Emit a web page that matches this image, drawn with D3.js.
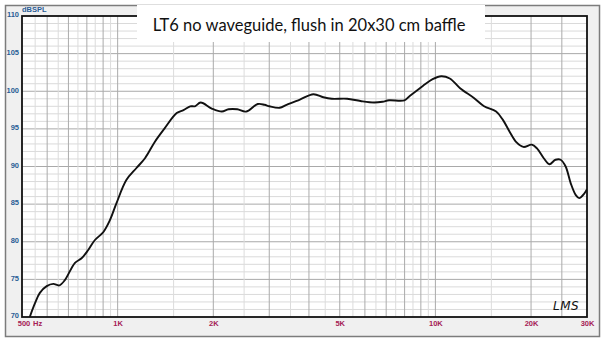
<!DOCTYPE html>
<html>
  <head>
    <script src="https://d3js.org/d3.v7.min.js"></script>
    <style>
      body { margin: 0; background: #fff; }
    </style>
  </head>
  <body>
<script type="text/javascript">
// frequency response
var freqs = [529, 549, 569, 598, 627, 655, 682, 734, 770, 808, 847, 902, 944, 991,
  1065, 1146, 1219, 1310, 1407, 1534, 1611, 1692, 1750, 1825, 1978, 2128, 2233, 2380,
  2535, 2760, 2900, 3005, 3237, 3401, 3746, 4131, 4440, 4720, 5273, 5810, 6410, 6815,
  7150, 7990, 8270, 9130, 9800, 10430, 11100, 11960, 13220, 14230, 15530, 16310,
  17140, 18010, 18930, 20110, 20880, 21930, 22840, 23880, 24780, 25700, 26650,
  27660, 28350, 29410, 30000];
var spl = [70, 71.8, 73.2, 74.1, 74.4, 74.2, 74.9, 77.2, 77.8, 78.9, 80.2, 81.3, 82.8, 85.1,
  88.2, 89.8, 91.1, 93.3, 95.1, 97.1, 97.5, 98.0, 98.0, 98.5, 97.7, 97.3, 97.6, 97.6,
  97.3, 98.3, 98.2, 98.0, 97.8, 98.2, 98.9, 99.6, 99.2, 99.0, 99.0, 98.7, 98.5, 98.6,
  98.8, 98.8, 99.3, 100.7, 101.6, 102.0, 101.7, 100.4, 99.1, 98.0, 97.3, 96.2,
  94.6, 93.2, 92.6, 92.9, 92.4, 91.1, 90.3, 90.9, 90.9, 90.0, 87.8,
  86.2, 85.8, 86.4, 87.0];

var yTicks = [70, 75, 80, 85, 90, 95, 100, 105, 110];
var xTickVals = [500, 1000, 2000, 5000, 10000, 20000, 30000];
var xTickLabels = ['500', '1K', '2K', '5K', '10K', '20K', '30K'];
var title = 'LT6 no waveguide, flush in 20x30 cm baffle';

var W = 610, H = 341;
var plot = {left: 22, right: 587, top: 16, bottom: 317};

var svg = d3.select('body').append('svg')
    .attr('width', W)
    .attr('height', H);

var x = d3.scaleLog().domain([500, 30000]).range([plot.left, plot.right]);
var y = d3.scaleLinear().domain([70, 110]).range([plot.bottom, plot.top]);

// outer frame
svg.append('rect')
    .attr('x', 5.5).attr('y', 5.5)
    .attr('width', 594).attr('height', 331)
    .attr('fill', '#f0f0f0')
    .attr('stroke', '#7c7c7c')
    .attr('stroke-width', 1.5);

svg.append('rect')
    .attr('x', plot.left).attr('y', plot.top)
    .attr('width', plot.right - plot.left).attr('height', plot.bottom - plot.top)
    .attr('fill', '#fff');

// grid lines
var vLines = [];
d3.range(550, 1001, 50).forEach(function(f) { vLines.push({f: f, major: f % 100 === 0}); });
d3.range(1500, 10001, 500).forEach(function(f) { vLines.push({f: f, major: f % 1000 === 0}); });
d3.range(15000, 25001, 5000).forEach(function(f) { vLines.push({f: f, major: f % 10000 === 0 || f === 25000}); });

var hLines = d3.range(71, 110, 1);

var grid = svg.append('g');
grid.selectAll('line.h')
    .data(hLines)
    .enter()
    .append('line')
    .attr('x1', plot.left).attr('x2', plot.right)
    .attr('y1', function(d) { return y(d); })
    .attr('y2', function(d) { return y(d); })
    .attr('stroke', function(d) { return d % 5 === 0 ? '#a9a9a9' : '#dadada'; })
    .attr('stroke-width', 1);

grid.selectAll('line.v')
    .data(vLines)
    .enter()
    .append('line')
    .attr('y1', plot.top).attr('y2', plot.bottom)
    .attr('x1', function(d) { return x(d.f); })
    .attr('x2', function(d) { return x(d.f); })
    .attr('stroke', function(d) { return d.major ? '#ababab' : '#dcdcdc'; })
    .attr('stroke-width', 1);

svg.append('clipPath').attr('id', 'clip')
  .append('rect')
    .attr('x', plot.left).attr('y', plot.top)
    .attr('width', plot.right - plot.left).attr('height', plot.bottom - plot.top);

var line = d3.line()
    .x(function(d, i) { return x(freqs[i]); })
    .y(function(d) { return y(d); })
    .curve(d3.curveCatmullRom);

svg.append('path')
    .datum(spl)
    .attr('clip-path', 'url(#clip)')
    .attr('d', line)
    .attr('fill', 'none')
    .attr('stroke', '#111')
    .attr('stroke-width', 1.9)
    .attr('stroke-linejoin', 'round');

// plot border
svg.append('rect')
    .attr('x', plot.left).attr('y', plot.top)
    .attr('width', plot.right - plot.left).attr('height', plot.bottom - plot.top)
    .attr('fill', 'none')
    .attr('stroke', '#111')
    .attr('stroke-width', 1.8);

// axes (labels only)
var yAxis = d3.axisLeft(y).tickValues(yTicks).tickSize(0).tickPadding(3);
var gy = svg.append('g')
    .attr('transform', 'translate(' + plot.left + ',0)')
    .call(yAxis);
gy.select('.domain').remove();
gy.selectAll('text')
    .attr('fill', '#2a5d95')
    .attr('font-family', 'Liberation Sans, Arial, sans-serif')
    .attr('font-size', '7.5px')
    .attr('font-weight', 'bold')
    .attr('dy', '0.1em');

var xAxis = d3.axisBottom(x).tickValues(xTickVals)
    .tickFormat(function(d, i) { return xTickLabels[i]; })
    .tickSize(0).tickPadding(4);
var gx = svg.append('g')
    .attr('transform', 'translate(0,' + plot.bottom + ')')
    .call(xAxis);
gx.select('.domain').remove();
gx.selectAll('text')
    .attr('fill', '#a52055')
    .attr('font-family', 'Liberation Sans, Arial, sans-serif')
    .attr('font-size', '7.5px')
    .attr('font-weight', 'bold')
    .attr('dx', function(d) { return d === 500 ? '1.5px' : 0; });

svg.append('text')
    .attr('x', x(500) + 11)
    .attr('y', plot.bottom + 4)
    .attr('fill', '#a52055')
    .attr('font-family', 'Liberation Sans, Arial, sans-serif')
    .attr('font-size', '7.5px')
    .attr('font-weight', 'bold')
    .attr('dy', '0.71em')
    .text('Hz');

svg.append('text')
    .attr('x', plot.left).attr('y', 12)
    .attr('fill', '#2a5d95')
    .attr('font-family', 'Liberation Sans, Arial, sans-serif')
    .attr('font-size', '7.5px')
    .attr('font-weight', 'bold')
    .text('dBSPL');

// title box
svg.append('rect')
    .attr('x', 137).attr('y', 5)
    .attr('width', 348).attr('height', 37)
    .attr('fill', '#fff');

svg.append('text')
    .attr('x', 309).attr('y', 31)
    .attr('text-anchor', 'middle')
    .attr('fill', '#111')
    .attr('font-family', 'Lato, Open Sans, sans-serif')
    .attr('font-size', '16.5px')
    .text(title);

// signature
svg.append('text')
    .attr('x', 553).attr('y', 310)
    .attr('fill', '#111')
    .attr('font-family', 'DejaVu Sans, sans-serif')
    .attr('font-style', 'italic')
    .attr('font-size', '12px')
    .attr('letter-spacing', '0.5px')
    .text('LMS');
</script>
  </body>
</html>
